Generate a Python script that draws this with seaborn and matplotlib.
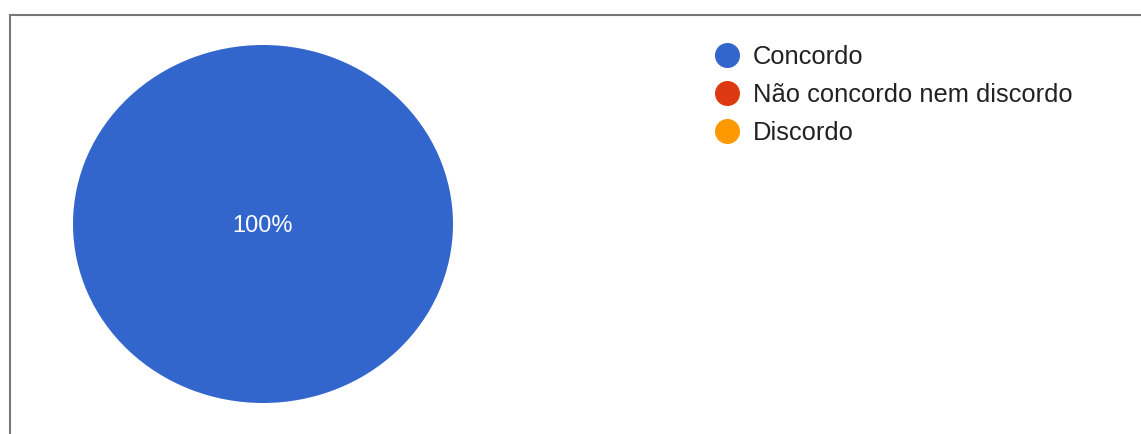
import matplotlib
matplotlib.use("Agg")
import matplotlib.pyplot as plt
from matplotlib.lines import Line2D
import seaborn as sns

# Survey answers and their shares
categories = ["Concordo", "Não concordo nem discordo", "Discordo"]
values = [100, 0, 0]
colors = ["#3366CC", "#DC3912", "#FF9900"]

sns.set_theme(style="white")
plt.rcParams["font.family"] = ["Liberation Sans", "DejaVu Sans"]

W, H = 1141, 434
fig = plt.figure(figsize=(W / 100, H / 100), dpi=100)
fig.patch.set_facecolor("white")

# Pie area (slightly wider than tall)
ax = fig.add_axes([73 / W, 31 / H, 380 / W, 358 / H])
wedges, _ = ax.pie(values, colors=colors, startangle=90, counterclock=False,
                   radius=1.0, wedgeprops=dict(linewidth=0))
ax.set_aspect("auto")
ax.set_xlim(-1, 1)
ax.set_ylim(-1, 1)
ax.axis("off")

total = sum(values)
for v in values:
    if v > 0:
        share = 100 * v / total
        ax.text(0, 0, f"{share:.0f}%", color="white", ha="center",
                va="center_baseline", fontsize=17)

# Legend with round markers
handles = [Line2D([0], [0], marker="o", linestyle="none", markersize=17,
                  markerfacecolor=c, markeredgecolor=c) for c in colors]
fig.legend(handles, categories, loc="upper left",
           bbox_to_anchor=(712 / W, 1 - 45 / H), frameon=False,
           fontsize=18.4, handletextpad=0.4, labelspacing=0.55,
           handlelength=1.2, borderaxespad=0, borderpad=0,
           labelcolor="#222222")

# Frame lines along the top and left edges
fig.add_artist(Line2D([9.5 / W, 1.0], [1 - 14.5 / H, 1 - 14.5 / H],
                      transform=fig.transFigure, color="#777777", lw=1.5))
fig.add_artist(Line2D([9.5 / W, 9.5 / W], [0, 1 - 14.5 / H],
                      transform=fig.transFigure, color="#777777", lw=1.5))

fig.savefig("out.png", dpi=100, facecolor="white")
